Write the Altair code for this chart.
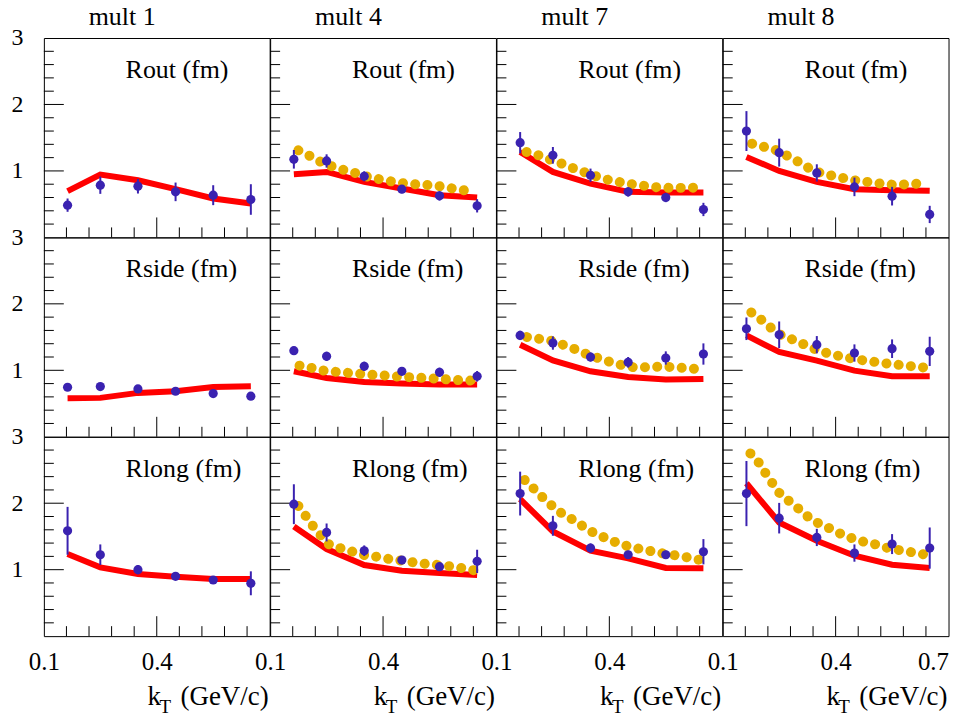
import altair as alt
import pandas as pd

FONT = "Liberation Serif"
BLUE = "#3a22b0"
YEL = "#e6ad00"
RED = "#ff0000"

mults = ["mult 1", "mult 4", "mult 7", "mult 8"]
radii = ["Rout (fm)", "Rside (fm)", "Rlong (fm)"]

kt_bins = [0.163, 0.25, 0.35, 0.45, 0.55, 0.65]

x_minor = [0.16, 0.22, 0.28, 0.34, 0.46, 0.52, 0.58, 0.64]
x_major = [0.4]
y_minor = [0.2, 0.4, 0.6, 0.8, 1.2, 1.4, 1.6, 1.8, 2.2, 2.4, 2.6, 2.8]
y_major = [1.0, 2.0]

rout_m1_pts = [0.485, 0.785, 0.77, 0.685, 0.635, 0.57]
rout_m1_err = [0.10, 0.13, 0.11, 0.14, 0.15, 0.23]
rout_m1_fit = [0.695, 0.945, 0.86, 0.725, 0.585, 0.51]

rout_m4_pts = [1.175, 1.15, 0.92, 0.725, 0.625, 0.475]
rout_m4_err = [0.14, 0.10, 0.075, 0.06, 0.07, 0.10]
rout_m4_fit = [0.95, 0.985, 0.835, 0.735, 0.635, 0.60]
rout_m4_yel_kt = [0.175, 0.206, 0.235, 0.268, 0.299, 0.332, 0.365, 0.397, 0.429, 0.461, 0.496, 0.529, 0.562, 0.595, 0.627]
rout_m4_yel = [1.31, 1.225, 1.135, 1.06, 1.01, 0.96, 0.90, 0.87, 0.835, 0.81, 0.795, 0.785, 0.76, 0.725, 0.70]

rout_m7_pts = [1.425, 1.235, 0.935, 0.685, 0.60, 0.42]
rout_m7_err = [0.16, 0.125, 0.10, 0.07, 0.07, 0.10]
rout_m7_fit = [1.285, 0.985, 0.81, 0.685, 0.675, 0.675]
rout_m7_yel_kt = [0.180, 0.212, 0.243, 0.274, 0.307, 0.339, 0.370, 0.401, 0.434, 0.466, 0.500, 0.533, 0.566, 0.600, 0.633]
rout_m7_yel = [1.285, 1.235, 1.17, 1.11, 1.035, 0.97, 0.91, 0.86, 0.825, 0.795, 0.77, 0.75, 0.745, 0.745, 0.75]

rout_m8_pts = [1.60, 1.275, 0.97, 0.76, 0.62, 0.345]
rout_m8_err = [0.30, 0.21, 0.13, 0.14, 0.14, 0.13]
rout_m8_fit = [1.21, 1.0, 0.835, 0.725, 0.71, 0.70]
rout_m8_yel_kt = [0.178, 0.211, 0.243, 0.273, 0.302, 0.331, 0.364, 0.395, 0.426, 0.459, 0.493, 0.526, 0.558, 0.592, 0.625]
rout_m8_yel = [1.41, 1.36, 1.31, 1.225, 1.135, 1.035, 0.96, 0.925, 0.885, 0.85, 0.83, 0.805, 0.79, 0.80, 0.81]

rside_m1_pts = [0.745, 0.755, 0.72, 0.685, 0.65, 0.61]
rside_m1_err = [0.05, 0.05, 0.05, 0.05, 0.05, 0.05]
rside_m1_fit = [0.58, 0.585, 0.66, 0.685, 0.75, 0.76]

rside_m4_pts = [1.295, 1.21, 1.06, 0.985, 0.97, 0.91]
rside_m4_err = [0.06, 0.07, 0.07, 0.06, 0.07, 0.08]
rside_m4_fit = [0.985, 0.885, 0.825, 0.80, 0.785, 0.785]
rside_m4_yel_kt = [0.178, 0.211, 0.243, 0.277, 0.310, 0.343, 0.376, 0.410, 0.443, 0.476, 0.509, 0.543, 0.576, 0.609, 0.642]
rside_m4_yel = [1.07, 1.035, 0.995, 0.975, 0.96, 0.945, 0.93, 0.92, 0.905, 0.895, 0.885, 0.875, 0.86, 0.85, 0.845]

rside_m7_pts = [1.525, 1.41, 1.20, 1.12, 1.185, 1.245]
rside_m7_err = [0.07, 0.10, 0.07, 0.08, 0.10, 0.16]
rside_m7_fit = [1.385, 1.15, 0.985, 0.90, 0.86, 0.87]
rside_m7_yel_kt = [0.181, 0.212, 0.245, 0.277, 0.308, 0.339, 0.370, 0.403, 0.435, 0.466, 0.500, 0.533, 0.566, 0.600, 0.633]
rside_m7_yel = [1.50, 1.475, 1.445, 1.385, 1.32, 1.245, 1.185, 1.125, 1.075, 1.045, 1.045, 1.055, 1.05, 1.035, 1.02]

rside_m8_pts = [1.625, 1.535, 1.385, 1.26, 1.325, 1.285]
rside_m8_err = [0.17, 0.20, 0.13, 0.13, 0.14, 0.22]
rside_m8_fit = [1.525, 1.275, 1.145, 0.995, 0.91, 0.91]
rside_m8_yel_kt = [0.176, 0.203, 0.229, 0.256, 0.287, 0.318, 0.349, 0.380, 0.413, 0.446, 0.479, 0.512, 0.545, 0.579, 0.612, 0.645]
rside_m8_yel = [1.87, 1.76, 1.635, 1.525, 1.46, 1.385, 1.31, 1.255, 1.21, 1.175, 1.145, 1.12, 1.095, 1.075, 1.055, 1.035]

rlong_m1_pts = [1.585, 1.225, 1.0, 0.90, 0.845, 0.795]
rlong_m1_err = [0.36, 0.155, 0.07, 0.05, 0.05, 0.18]
rlong_m1_fit = [1.235, 1.035, 0.935, 0.895, 0.86, 0.86]

rlong_m4_pts = [1.985, 1.56, 1.285, 1.145, 1.045, 1.125]
rlong_m4_err = [0.30, 0.135, 0.08, 0.06, 0.06, 0.175]
rlong_m4_fit = [1.65, 1.31, 1.07, 0.985, 0.95, 0.92]
rlong_m4_yel_kt = [0.175, 0.193, 0.212, 0.233, 0.255, 0.286, 0.317, 0.350, 0.383, 0.417, 0.450, 0.482, 0.516, 0.549, 0.580, 0.613, 0.647]
rlong_m4_yel = [1.96, 1.82, 1.67, 1.525, 1.385, 1.325, 1.275, 1.22, 1.195, 1.16, 1.135, 1.11, 1.085, 1.07, 1.05, 1.02, 0.985]

rlong_m7_pts = [2.145, 1.66, 1.325, 1.225, 1.225, 1.27]
rlong_m7_err = [0.33, 0.15, 0.07, 0.06, 0.06, 0.19]
rlong_m7_fit = [2.06, 1.575, 1.285, 1.17, 1.025, 1.02]
rlong_m7_yel_kt = [0.175, 0.199, 0.223, 0.248, 0.274, 0.304, 0.332, 0.361, 0.391, 0.422, 0.454, 0.487, 0.519, 0.551, 0.584, 0.617, 0.650]
rlong_m7_yel = [2.35, 2.22, 2.085, 1.96, 1.845, 1.75, 1.645, 1.545, 1.475, 1.40, 1.345, 1.305, 1.27, 1.235, 1.21, 1.175, 1.135]

rlong_m8_pts = [2.145, 1.775, 1.485, 1.25, 1.385, 1.325]
rlong_m8_err = [0.49, 0.23, 0.13, 0.13, 0.15, 0.31]
rlong_m8_fit = [2.30, 1.71, 1.435, 1.21, 1.075, 1.025]
rlong_m8_yel_kt = [0.1735, 0.196, 0.214, 0.234, 0.253, 0.278, 0.303, 0.329, 0.358, 0.389, 0.419, 0.450, 0.481, 0.515, 0.548, 0.580, 0.614, 0.645]
rlong_m8_yel = [2.75, 2.61, 2.45, 2.285, 2.135, 2.025, 1.91, 1.785, 1.685, 1.61, 1.525, 1.46, 1.41, 1.37, 1.31, 1.285, 1.25, 1.22]

PANELS = [
    [(rout_m1_pts, rout_m1_err, rout_m1_fit, None, None),
     (rout_m4_pts, rout_m4_err, rout_m4_fit, rout_m4_yel_kt, rout_m4_yel),
     (rout_m7_pts, rout_m7_err, rout_m7_fit, rout_m7_yel_kt, rout_m7_yel),
     (rout_m8_pts, rout_m8_err, rout_m8_fit, rout_m8_yel_kt, rout_m8_yel)],
    [(rside_m1_pts, rside_m1_err, rside_m1_fit, None, None),
     (rside_m4_pts, rside_m4_err, rside_m4_fit, rside_m4_yel_kt, rside_m4_yel),
     (rside_m7_pts, rside_m7_err, rside_m7_fit, rside_m7_yel_kt, rside_m7_yel),
     (rside_m8_pts, rside_m8_err, rside_m8_fit, rside_m8_yel_kt, rside_m8_yel)],
    [(rlong_m1_pts, rlong_m1_err, rlong_m1_fit, None, None),
     (rlong_m4_pts, rlong_m4_err, rlong_m4_fit, rlong_m4_yel_kt, rlong_m4_yel),
     (rlong_m7_pts, rlong_m7_err, rlong_m7_fit, rlong_m7_yel_kt, rlong_m7_yel),
     (rlong_m8_pts, rlong_m8_err, rlong_m8_fit, rlong_m8_yel_kt, rlong_m8_yel)],
]

W, H = 226.5, 200


def panel(r, c):
    pts, err, fit, ykt, yv = PANELS[r][c]
    xs = alt.Scale(domain=[0.1, 0.7], nice=False, zero=False)
    ys = alt.Scale(domain=[0, 3], nice=False, zero=False)
    if r == 2:
        xa = alt.Axis(values=[0.1, 0.4, 0.7] if c == 3 else [0.1, 0.4],
                      ticks=False, tickSize=0, domain=False, grid=False,
                      labelFont=FONT, labelFontSize=25, labelColor="black",
                      labelPadding=13, labelFlush=False, labelOverlap=False,
                      labelBaseline="top",
                      labelAlign={"condition": {"test": "datum.value > 0.65", "value": "right"},
                                  "value": "center"},
                      format=".1f", title=None)
    else:
        xa = None
    if c == 0:
        ya = alt.Axis(values=[1, 2, 3], ticks=False, tickSize=0, domain=False, grid=False,
                      labelFont=FONT, labelFontSize=24, labelColor="black",
                      labelPadding=21, labelOverlap=False, labelFlush=False,
                      format="d", title=None)
    else:
        ya = None

    def X(f):
        return alt.X(f, type="quantitative", scale=xs, axis=xa, title=None)

    def Y(f):
        return alt.Y(f, type="quantitative", scale=ys, axis=ya, title=None)

    layers = []
    layers.append(alt.Chart(pd.DataFrame({"t": x_minor})).mark_rule(color="black", strokeWidth=1)
                  .encode(x=X("t"), y=alt.value(H), y2=alt.value(H - 10)))
    layers.append(alt.Chart(pd.DataFrame({"t": x_major})).mark_rule(color="black", strokeWidth=1)
                  .encode(x=X("t"), y=alt.value(H), y2=alt.value(H - 20)))
    layers.append(alt.Chart(pd.DataFrame({"t": y_minor})).mark_rule(color="black", strokeWidth=1)
                  .encode(y=Y("t"), x=alt.value(0), x2=alt.value(10)))
    layers.append(alt.Chart(pd.DataFrame({"t": y_major})).mark_rule(color="black", strokeWidth=1)
                  .encode(y=Y("t"), x=alt.value(0), x2=alt.value(20)))

    layers.append(alt.Chart(pd.DataFrame({"kt": kt_bins, "v": fit}))
                  .mark_line(color=RED, strokeWidth=6)
                  .encode(x=X("kt"), y=Y("v")))
    if ykt is not None:
        layers.append(alt.Chart(pd.DataFrame({"kt": ykt, "v": yv}))
                      .mark_line(color=YEL, strokeWidth=10, strokeDash=[0.1, 12.2], strokeCap="round")
                      .encode(x=X("kt"), y=Y("v")))
    pdf = pd.DataFrame({"kt": kt_bins, "v": pts, "e": err})
    base = alt.Chart(pdf).transform_calculate(lo="datum.v - datum.e", hi="datum.v + datum.e")
    layers.append(base.mark_rule(color=BLUE, strokeWidth=2)
                  .encode(x=X("kt"), y=Y("lo"), y2="hi:Q"))
    layers.append(alt.Chart(pdf).mark_circle(color=BLUE, size=85, opacity=1)
                  .encode(x=X("kt"), y=Y("v")))

    layers.append(alt.Chart(pd.DataFrame({"s": [radii[r]]}))
                  .mark_text(font=FONT, fontSize=26, color="black", align="left", baseline="alphabetic")
                  .encode(text="s:N", x=alt.value(82), y=alt.value(40)))
    if r == 0:
        layers.append(alt.Chart(pd.DataFrame({"s": [mults[c]]}))
                      .mark_text(font=FONT, fontSize=26, color="black", align="left", baseline="alphabetic")
                      .encode(text="s:N", x=alt.value(45), y=alt.value(-13)))
    if r == 2:
        layers.append(alt.Chart(pd.DataFrame({"s": ["(GeV/c)"]}))
                      .mark_text(font=FONT, fontSize=27, color="black", align="right", baseline="alphabetic")
                      .encode(text="s:N", x=alt.value(W - 1), y=alt.value(H + 69)))
        layers.append(alt.Chart(pd.DataFrame({"s": ["k"]}))
                      .mark_text(font=FONT, fontSize=27, color="black", align="left", baseline="alphabetic")
                      .encode(text="s:N", x=alt.value(104), y=alt.value(H + 69)))
        layers.append(alt.Chart(pd.DataFrame({"s": ["T"]}))
                      .mark_text(font=FONT, fontSize=19, color="black", align="left", baseline="alphabetic")
                      .encode(text="s:N", x=alt.value(116), y=alt.value(H + 77)))

    return alt.layer(*layers).properties(width=W, height=H)


panels = [panel(r, c) for r in range(3) for c in range(4)]

chart = (
    alt.concat(*panels, columns=4, spacing=0, bounds="flush")
    .properties(padding={"left": 10, "top": 2, "right": 7, "bottom": 0}, background="white")
    .configure_view(stroke="black", strokeWidth=1)
)

chart.save("out.html", embed_options={"renderer": "svg", "actions": False})
